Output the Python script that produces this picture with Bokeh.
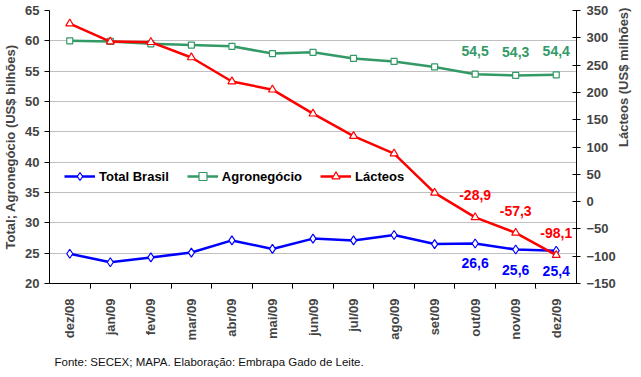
from math import pi
from bokeh.plotting import figure
from bokeh.core.properties import value
from bokeh.models import (FactorRange, Range1d, LinearAxis, CategoricalAxis, FixedTicker,
                          Legend, LegendItem, ColumnDataSource, LabelSet, Title)
from bokeh.embed import file_html
from bokeh.resources import INLINE

months = ["dez/08", "jan/09", "fev/09", "mar/09", "abr/09", "mai/09", "jun/09",
          "jul/09", "ago/09", "set/09", "out/09", "nov/09", "dez/09"]
total_brasil = [24.9, 23.5, 24.3, 25.1, 27.1, 25.7, 27.4, 27.1, 28.0, 26.5, 26.6, 25.6, 25.4]
agronegocio = [60.0, 59.9, 59.5, 59.3, 59.1, 57.9, 58.1, 57.1, 56.6, 55.7, 54.5, 54.3, 54.4]
lacteos = [326, 293, 292, 264, 220, 205, 161, 120, 88, 16, -28.9, -57.3, -98.1]
left_ticks = [20, 25, 30, 35, 40, 45, 50, 55, 60, 65]
right_ticks = [-150, -100, -50, 0, 50, 100, 150, 200, 250, 300, 350]
boundaries = ["b%d" % i for i in range(len(months) + 1)]

FONT = "Liberation Sans"
BLUE = "#0000FF"
GREEN = "#339966"
RED = "#FF0000"

p = figure(width=641, height=377,
           x_range=FactorRange(factors=months), y_range=Range1d(20, 65),
           x_axis_location=None, y_axis_location="left",
           output_backend="svg", toolbar_location=None,
           min_border_left=48, min_border_right=58, min_border_top=10, min_border_bottom=90)
p.outline_line_color = None
p.background_fill_color = "white"
p.xgrid.visible = False
p.ygrid.grid_line_color = "#C0C0C0"
p.ygrid.grid_line_width = 1

# left axis
ya = p.yaxis[0]
ya.ticker = FixedTicker(ticks=left_ticks)
ya.axis_label = "Total; Agronegócio (US$ bilhões)"
ya.axis_label_text_font = FONT
ya.axis_label_text_font_style = "bold"
ya.axis_label_text_font_size = "13px"
ya.axis_label_standoff = 4
ya.major_label_text_font = FONT
ya.major_label_text_font_style = "bold"
ya.major_label_text_font_size = "13px"
ya.major_label_standoff = 5
ya.major_tick_out = 5
ya.major_tick_in = 0
ya.minor_tick_out = 0
ya.minor_tick_in = 0
ya.axis_line_color = "black"

# right axis
p.extra_y_ranges = {"lac": Range1d(-150, 350)}
ra = LinearAxis(y_range_name="lac", ticker=FixedTicker(ticks=right_ticks),
                axis_label="Lácteos (US$ milhões)")
ra.axis_label_text_font = FONT
ra.axis_label_text_font_style = "bold"
ra.axis_label_text_font_size = "13px"
ra.axis_label_standoff = 5
ra.axis_label_orientation = pi / 2
ra.major_label_text_font = FONT
ra.major_label_text_font_style = "bold"
ra.major_label_text_font_size = "13px"
ra.major_label_standoff = 6
ra.major_tick_out = 4
ra.major_tick_in = 4
ra.minor_tick_out = 0
ra.minor_tick_in = 0
ra.axis_line_color = "black"
p.add_layout(ra, "right")

# bottom: boundary tick marks (between categories) then category labels
p.extra_x_ranges = {"bnd": FactorRange(factors=boundaries, range_padding=-0.5,
                                       range_padding_units="absolute")}
ta = CategoricalAxis(x_range_name="bnd", major_label_overrides={b: "" for b in boundaries})
ta.major_label_text_font_size = "1px"
ta.major_label_standoff = 0
ta.major_tick_out = 5
ta.major_tick_in = 0
ta.axis_line_color = "black"
p.add_layout(ta, "below")

ca = CategoricalAxis()
ca.axis_line_color = None
ca.major_tick_out = 0
ca.major_tick_in = 0
ca.major_label_orientation = pi / 2
ca.major_label_standoff = 6
ca.major_label_text_font = FONT
ca.major_label_text_font_style = "bold"
ca.major_label_text_font_size = "13px"
p.add_layout(ca, "below")

footer = Title(text="Fonte: SECEX; MAPA. Elaboração: Embrapa Gado de Leite.",
               align="left", offset=5, standoff=20,
               text_font=FONT, text_font_size="11.5px", text_font_style="normal",
               text_color="#111111")
p.add_layout(footer, "below")

src = ColumnDataSource(dict(m=months, tb=total_brasil, ag=agronegocio, la=lacteos))

l1 = p.line("m", "tb", source=src, line_color=BLUE, line_width=2.5)
s1 = p.scatter("m", "tb", source=src, marker="diamond", size=9, line_color=BLUE,
               fill_color="white", line_width=1.2)
l2 = p.line("m", "ag", source=src, line_color=GREEN, line_width=2.5)
s2 = p.scatter("m", "ag", source=src, marker="square", size=6, line_color=GREEN,
               fill_color="white", line_width=1.2)
l3 = p.line("m", "la", source=src, line_color=RED, line_width=2.5, y_range_name="lac")
s3 = p.scatter("m", "la", source=src, marker="triangle", size=8, line_color=RED,
               fill_color="white", line_width=1.2, y_range_name="lac")


def fmt(v):
    return f"{v:.1f}".replace(".", ",")


n = 3
lab_tb = ColumnDataSource(dict(m=months[-n:], v=total_brasil[-n:], t=[fmt(v) for v in total_brasil[-n:]]))
lab_ag = ColumnDataSource(dict(m=months[-n:], v=agronegocio[-n:], t=[fmt(v) for v in agronegocio[-n:]]))
lab_la = ColumnDataSource(dict(m=months[-n:], v=lacteos[-n:], t=[fmt(v) for v in lacteos[-n:]]))

common = dict(x="m", y="v", text="t", text_font=value(FONT), text_font_style="bold",
              text_font_size="14px", text_align="center", text_baseline="middle")
p.add_layout(LabelSet(source=lab_tb, text_color=BLUE, y_offset=-20, **common))
p.add_layout(LabelSet(source=lab_ag, text_color=GREEN, y_offset=23.5, **common))
p.add_layout(LabelSet(source=lab_la, text_color=RED, y_offset=22, y_range_name="lac", **common))

legend = Legend(items=[LegendItem(label="Total Brasil", renderers=[l1, s1]),
                       LegendItem(label="Agronegócio", renderers=[l2, s2]),
                       LegendItem(label="Lácteos", renderers=[l3, s3])],
                orientation="horizontal", location=(15, 97))
legend.border_line_color = None
legend.background_fill_alpha = 0
legend.padding = 0
legend.margin = 0
legend.spacing = 18
legend.glyph_width = 31
legend.glyph_height = 20
legend.label_standoff = 4
legend.label_text_font = FONT
legend.label_text_font_style = "bold"
legend.label_text_font_size = "13px"
legend.label_text_color = "black"
p.add_layout(legend, "center")

open("out.html", "w").write(file_html(p, INLINE))
